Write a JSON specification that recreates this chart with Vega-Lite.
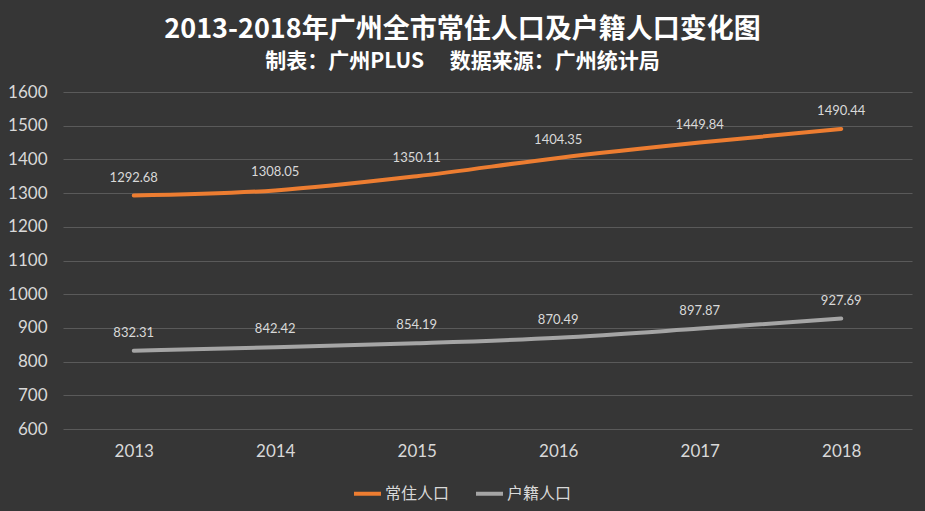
{
  "$schema": "https://vega.github.io/schema/vega-lite/v6.json",
  "width": 849,
  "height": 337,
  "autosize": "none",
  "padding": {"left": 63, "top": 92, "right": 13, "bottom": 82},
  "background": "#363636",
  "title": {
    "text": "2013-2018年广州全市常住人口及户籍人口变化图",
    "subtitle": "制表：广州PLUS　 数据来源：广州统计局",
    "anchor": "middle",
    "frame": "group",
    "dx": -25,
    "offset": 10,
    "font": "Noto Sans CJK SC",
    "fontSize": 27,
    "fontWeight": "bold",
    "color": "#ffffff",
    "subtitleFont": "Noto Sans CJK SC",
    "subtitleFontSize": 21,
    "subtitleFontWeight": "bold",
    "subtitleColor": "#ffffff",
    "subtitlePadding": 7
  },
  "config": {
    "view": {"stroke": null},
    "axis": {
      "labelColor": "#d9d9d9",
      "labelFont": "Lato",
      "labelFontSize": 17,
      "domain": false,
      "ticks": false,
      "title": null,
      "gridColor": "#5a5a5a",
      "gridWidth": 1
    },
    "legend": {
      "labelColor": "#d9d9d9",
      "labelFont": "Noto Sans CJK SC",
      "labelFontSize": 16
    }
  },
  "data": {
    "values": [
      {"year": "2013", "series": "常住人口", "value": 1292.68},
      {"year": "2014", "series": "常住人口", "value": 1308.05},
      {"year": "2015", "series": "常住人口", "value": 1350.11},
      {"year": "2016", "series": "常住人口", "value": 1404.35},
      {"year": "2017", "series": "常住人口", "value": 1449.84},
      {"year": "2018", "series": "常住人口", "value": 1490.44},
      {"year": "2013", "series": "户籍人口", "value": 832.31},
      {"year": "2014", "series": "户籍人口", "value": 842.42},
      {"year": "2015", "series": "户籍人口", "value": 854.19},
      {"year": "2016", "series": "户籍人口", "value": 870.49},
      {"year": "2017", "series": "户籍人口", "value": 897.87},
      {"year": "2018", "series": "户籍人口", "value": 927.69}
    ]
  },
  "encoding": {
    "x": {
      "field": "year",
      "type": "ordinal",
      "scale": {"type": "point", "padding": 0.5},
      "axis": {"labelAngle": 0, "labelPadding": 14, "grid": false}
    },
    "y": {
      "field": "value",
      "type": "quantitative",
      "scale": {"domain": [600, 1600], "nice": false, "zero": false},
      "axis": {"values": [600, 700, 800, 900, 1000, 1100, 1200, 1300, 1400, 1500, 1600], "format": "d", "labelPadding": 16, "grid": true}
    }
  },
  "layer": [
    {
      "mark": {"type": "line", "interpolate": "monotone", "strokeWidth": 4, "strokeCap": "round"},
      "encoding": {
        "color": {
          "field": "series",
          "type": "nominal",
          "scale": {"domain": ["常住人口", "户籍人口"], "range": ["#ED7D31", "#A5A5A5"]},
          "legend": {
            "title": null,
            "orient": "none",
            "direction": "horizontal",
            "legendX": 289,
            "legendY": 386,
            "symbolType": "stroke",
            "symbolSize": 729,
            "symbolStrokeWidth": 4,
            "labelOffset": 2,
            "columnPadding": 18
          }
        }
      }
    },
    {
      "mark": {"type": "text", "dy": -18, "fontSize": 13, "font": "Lato", "color": "#d9d9d9"},
      "encoding": {
        "text": {"field": "value", "type": "quantitative", "format": ".2f"}
      }
    }
  ]
}
